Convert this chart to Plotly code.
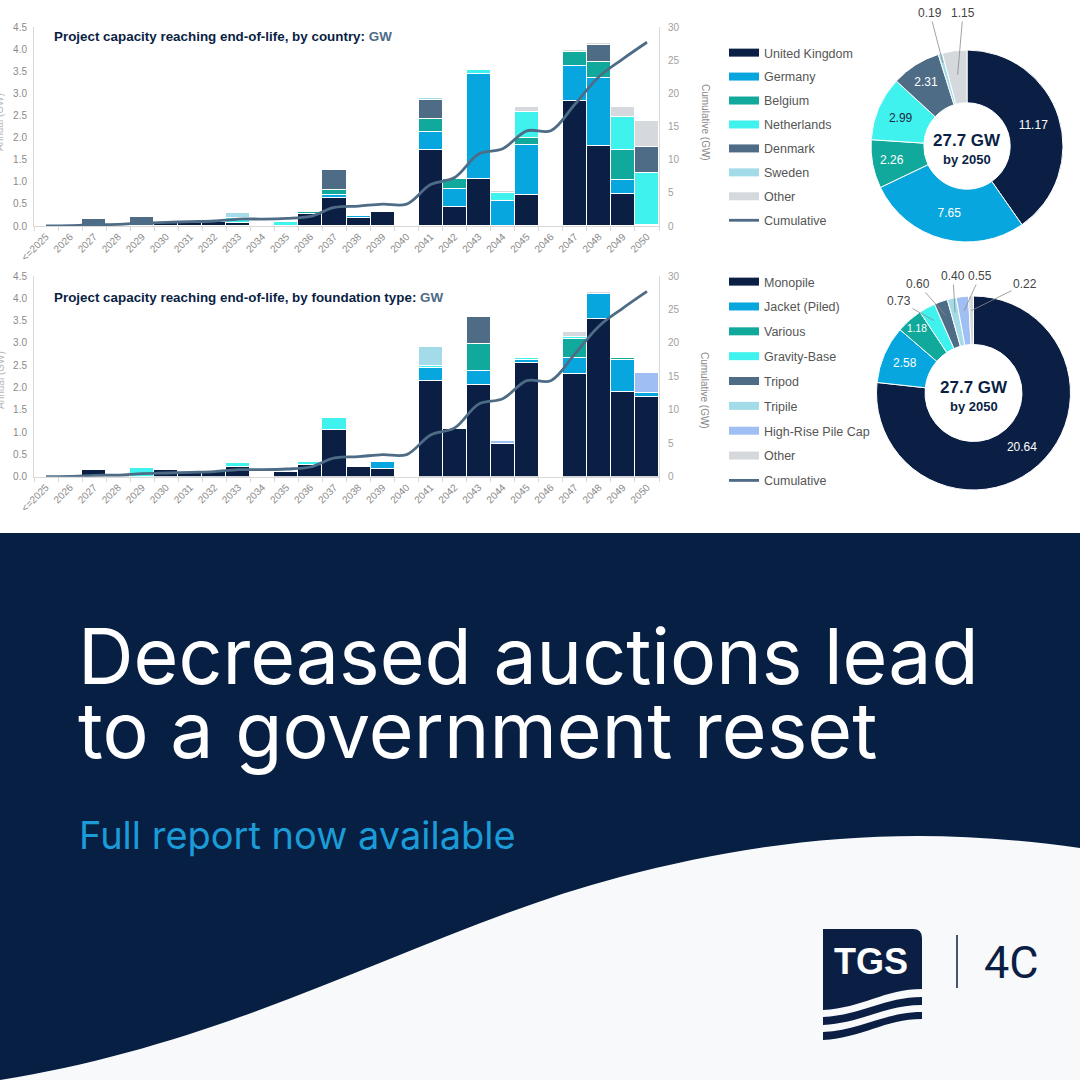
import math
import plotly.graph_objects as go

W, H = 1080, 1080

# ---------------- DATA ----------------
years = ["<=2025"] + [str(y) for y in range(2026, 2051)]

# Annual capacity reaching end-of-life by country (GW)
uk          = [0.01, 0.02, 0.00, 0.03, 0.00, 0.10, 0.10, 0.10, 0.07, 0.00, 0.00, 0.27, 0.63, 0.17, 0.32, 0.00, 1.73, 0.44, 1.06, 0.00, 0.69, 0.00, 2.82, 1.80, 0.72, 0.03]
germany     = [0, 0, 0, 0, 0, 0, 0, 0, 0, 0, 0, 0, 0.06, 0.05, 0, 0, 0.40, 0.40, 2.37, 0.57, 1.14, 0, 0.79, 1.54, 0.31, 0]
belgium     = [0, 0, 0, 0, 0, 0, 0, 0, 0, 0, 0, 0.04, 0.13, 0, 0, 0, 0.30, 0.22, 0, 0, 0.15, 0, 0.33, 0.37, 0.69, 0]
netherlands = [0, 0, 0, 0, 0, 0, 0, 0, 0.10, 0, 0.10, 0, 0, 0, 0, 0, 0, 0, 0.10, 0.17, 0.59, 0, 0, 0, 0.75, 1.16]
denmark     = [0, 0, 0.15, 0, 0.20, 0, 0, 0, 0, 0, 0, 0, 0.45, 0, 0, 0, 0.43, 0, 0, 0, 0, 0, 0, 0.39, 0, 0.60]
sweden      = [0, 0, 0, 0, 0, 0, 0, 0, 0.12, 0, 0, 0, 0.03, 0, 0, 0, 0.03, 0, 0, 0, 0, 0, 0, 0, 0, 0]
other_c     = [0, 0, 0, 0, 0, 0, 0, 0, 0, 0, 0, 0, 0, 0, 0, 0, 0.03, 0, 0, 0.05, 0.13, 0, 0.04, 0.03, 0.22, 0.59]

# Annual capacity reaching end-of-life by foundation type (GW)
monopile = [0, 0.01, 0.15, 0.02, 0, 0.15, 0.11, 0.10, 0.21, 0, 0.10, 0.26, 1.04, 0.22, 0.17, 0, 2.15, 1.06, 2.06, 0.73, 2.56, 0, 2.30, 3.53, 1.91, 1.78]
jacket   = [0, 0, 0, 0, 0, 0, 0, 0, 0, 0, 0, 0, 0, 0, 0.15, 0, 0.28, 0, 0.31, 0, 0.06, 0, 0.36, 0.57, 0.70, 0.10]
various  = [0, 0, 0, 0, 0, 0, 0, 0, 0, 0, 0, 0, 0, 0, 0, 0, 0, 0, 0.61, 0, 0, 0, 0.43, 0, 0.06, 0]
gravity  = [0, 0, 0, 0, 0.19, 0, 0, 0, 0.09, 0, 0, 0.06, 0.28, 0, 0, 0, 0.05, 0, 0, 0, 0.04, 0, 0.05, 0, 0, 0]
tripod   = [0, 0, 0, 0, 0, 0, 0, 0, 0, 0, 0, 0, 0, 0, 0, 0, 0, 0, 0.59, 0, 0, 0, 0, 0, 0, 0]
tripile  = [0, 0, 0, 0, 0, 0, 0, 0, 0, 0, 0, 0, 0, 0, 0, 0, 0.42, 0, 0, 0, 0, 0, 0, 0, 0, 0]
highrise = [0, 0, 0, 0, 0, 0, 0, 0, 0, 0, 0, 0, 0, 0, 0, 0, 0, 0, 0, 0.07, 0, 0, 0, 0, 0, 0.44]
other_f  = [0, 0, 0, 0, 0, 0, 0, 0, 0, 0, 0, 0, 0, 0, 0, 0, 0, 0, 0, 0, 0, 0, 0.10, 0.04, 0, 0]

# Cumulative capacity (GW, right axis)
cumulative = [0.01, 0.05, 0.20, 0.25, 0.45, 0.55, 0.65, 0.75, 1.05, 1.05, 1.15, 1.45, 2.80, 3.00, 3.30, 3.30,
              6.25, 7.30, 10.85, 11.65, 14.35, 14.35, 18.35, 22.50, 25.20, 27.70]

country_names = ["United Kingdom", "Germany", "Belgium", "Netherlands", "Denmark", "Sweden", "Other"]
country_totals = [11.17, 7.65, 2.26, 2.99, 2.31, 0.19, 1.15]

found_names = ["Monopile", "Jacket (Piled)", "Various", "Gravity-Base", "Tripod", "Tripile", "High-Rise Pile Cap", "Other"]
found_totals = [20.64, 2.58, 1.18, 0.73, 0.60, 0.40, 0.55, 0.22]

# ---------------- STYLE ----------------
NAVY = "#0b1f45"
BLUE = "#08a6df"
TEAL = "#12a99d"
CYAN = "#40f2ee"
SLATE = "#4e6c86"
LIGHT = "#a3dbe8"
PERI = "#9fbef4"
GREY = "#d5d8dc"
BANNER = "#061f42"
AX = "#d9d9d9"
TICK = "#8a8a8a"
FONT = "Liberation Sans, Arial, sans-serif"
HFONT = "Inter, Roboto, sans-serif"

country_colors = [NAVY, BLUE, TEAL, CYAN, SLATE, LIGHT, GREY]
found_colors = [NAVY, BLUE, TEAL, CYAN, SLATE, LIGHT, PERI, GREY]


def px(x):
    return x / W


def py(y):
    return 1 - y / H


def ppath(segs, close=True):
    out = []
    for cmd, pts in segs:
        out.append(cmd + " " + " ".join(f"{x / W:.5f},{1 - y / H:.5f}" for x, y in pts))
    return " ".join(out) + (" Z" if close else "")


fig = go.Figure()

# ---------------- BARS ----------------
for vals, name, col in zip([uk, germany, belgium, netherlands, denmark, sweden, other_c], country_names, country_colors):
    fig.add_trace(go.Bar(x=years, y=vals, name=name, marker=dict(color=col, line=dict(color="white", width=1)),
                         xaxis="x", yaxis="y", showlegend=False, hoverinfo="skip"))
for vals, name, col in zip([monopile, jacket, various, gravity, tripod, tripile, highrise, other_f], found_names, found_colors):
    fig.add_trace(go.Bar(x=years, y=vals, name=name, marker=dict(color=col, line=dict(color="white", width=1)),
                         xaxis="x2", yaxis="y3", showlegend=False, hoverinfo="skip"))

# legend entries (wide swatches)
for name, col in zip(country_names, country_colors):
    fig.add_trace(go.Scatter(x=[None], y=[None], mode="lines", line=dict(color=col, width=8), name=name,
                             legend="legend", legendgroup="a" + name, xaxis="x", yaxis="y", hoverinfo="skip"))
fig.add_trace(go.Scatter(x=years, y=cumulative, mode="lines", name="Cumulative",
                         line=dict(color=SLATE, width=2.8, shape="spline", smoothing=1),
                         xaxis="x", yaxis="y2", legend="legend", legendgroup="aCum", hoverinfo="skip"))
for name, col in zip(found_names, found_colors):
    fig.add_trace(go.Scatter(x=[None], y=[None], mode="lines", line=dict(color=col, width=8), name=name,
                             legend="legend2", legendgroup="b" + name, xaxis="x2", yaxis="y3", hoverinfo="skip"))
fig.add_trace(go.Scatter(x=years, y=cumulative, mode="lines", name="Cumulative",
                         line=dict(color=SLATE, width=2.8, shape="spline", smoothing=1),
                         xaxis="x2", yaxis="y4", legend="legend2", legendgroup="bCum", hoverinfo="skip"))

# ---------------- DONUTS ----------------
TOP_C = (967, 146, 96)
BOT_C = (973.5, 393, 97)

fig.add_trace(go.Pie(
    values=country_totals, labels=country_names, hole=0.45, sort=False, direction="clockwise", rotation=0,
    marker=dict(colors=country_colors, line=dict(color="white", width=1)),
    text=[f"{v:.2f}" if i < 5 else "" for i, v in enumerate(country_totals)], textinfo="text",
    textposition="inside", insidetextorientation="horizontal",
    textfont=dict(family=FONT, size=12, color=["white", "white", "white", "#1d2b45", "white", "white", "white"]),
    domain=dict(x=[px(TOP_C[0] - TOP_C[2]), px(TOP_C[0] + TOP_C[2])], y=[py(TOP_C[1] + TOP_C[2]), py(TOP_C[1] - TOP_C[2])]),
    showlegend=False, hoverinfo="skip"))
fig.add_trace(go.Pie(
    values=found_totals, labels=found_names, hole=0.5, sort=False, direction="clockwise", rotation=0,
    marker=dict(colors=found_colors, line=dict(color="white", width=1)),
    text=[f"{v:.2f}" if i < 3 else "" for i, v in enumerate(found_totals)], textinfo="text",
    textposition="inside", insidetextorientation="horizontal",
    textfont=dict(family=FONT, size=12, color="white"),
    domain=dict(x=[px(BOT_C[0] - BOT_C[2]), px(BOT_C[0] + BOT_C[2])], y=[py(BOT_C[1] + BOT_C[2]), py(BOT_C[1] - BOT_C[2])]),
    showlegend=False, hoverinfo="skip"))

annotations = []


def note(x, y, text, size, color, family=FONT, xanchor="center", yanchor="middle", **kw):
    annotations.append(dict(x=px(x), y=py(y), xref="paper", yref="paper", text=text, showarrow=False,
                            xanchor=xanchor, yanchor=yanchor, font=dict(family=family, size=size, color=color), **kw))


def slice_point(values, idx, center, rfrac):
    cx, cy, R = center
    tot = sum(values)
    frac = (sum(values[:idx]) + values[idx] / 2) / tot
    th = 2 * math.pi * frac
    r = R * rfrac
    return cx + r * math.sin(th), cy - r * math.cos(th)


def leader(values, idx, center, rfrac, tx, ty):
    hx, hy = slice_point(values, idx, center, rfrac)
    annotations.append(dict(x=px(hx), y=py(hy), xref="paper", yref="paper", ax=tx - hx, ay=ty - hy,
                            text=f"{values[idx]:.2f}", showarrow=True, arrowhead=0, arrowwidth=0.8,
                            arrowcolor="#8a8a8a", font=dict(family=FONT, size=12, color="#444444")))


leader(country_totals, 5, TOP_C, 0.9, 930, 13)
leader(country_totals, 6, TOP_C, 0.75, 963, 13)
leader(found_totals, 3, BOT_C, 0.85, 899, 301)
leader(found_totals, 4, BOT_C, 0.85, 918, 284)
leader(found_totals, 5, BOT_C, 0.85, 953, 276)
leader(found_totals, 6, BOT_C, 0.85, 980, 276)
leader(found_totals, 7, BOT_C, 0.85, 1025, 284)

for cx, cy, _ in (TOP_C, BOT_C):
    note(cx, cy - 6, "<b>27.7 GW</b>", 17, NAVY)
    note(cx, cy + 13, "<b>by 2050</b>", 13, NAVY)

# chart titles
note(52, 37, "<b>Project capacity reaching end-of-life, by country: <span style='color:%s'>GW</span></b>" % SLATE,
     13.4, NAVY, xanchor="left")
note(52, 297, "<b>Project capacity reaching end-of-life, by foundation type: <span style='color:%s'>GW</span></b>" % SLATE,
     13.4, NAVY, xanchor="left")
# axis titles
for yc in (122, 390):
    note(705, yc, "Cumulative (GW)", 10, TICK, textangle=90)
for yc in (122, 380):
    note(0, yc, "Annual (GW)", 10, "#b8b8b8", textangle=-90)

# banner texts
note(76, 656, "Decreased auctions lead", 77, "white", family=HFONT, xanchor="left")
note(76, 730, "to a government reset", 77, "white", family=HFONT, xanchor="left")
note(77, 835, "Full report now available", 38, "#1b9bd7", family=HFONT, xanchor="left")
# logo texts
note(871, 961, "<b>TGS</b>", 36, "white")
note(1011, 962, "4C", 45, NAVY, family="Roboto, sans-serif")

# ---------------- SHAPES ----------------
shapes = [
    dict(type="rect", xref="paper", yref="paper", x0=0, x1=1, y0=0, y1=py(533), fillcolor=BANNER,
         line=dict(width=0), layer="below"),
    dict(type="path", xref="paper", yref="paper", layer="below", fillcolor="#f8f9fa", line=dict(width=0),
         path=ppath([("M", [(0, 1080)]), ("C", [(250, 1040), (420, 930), (620, 877)]),
                     ("C", [(780, 835), (920, 825), (1080, 848)]), ("L", [(1080, 1080)])])),
    # logo
    dict(type="path", xref="paper", yref="paper", layer="below", fillcolor=NAVY, line=dict(width=0),
         path=ppath([("M", [(823, 929)]), ("L", [(913, 929)]), ("Q", [(922, 929), (922, 938)]), ("L", [(922, 989)]),
                     ("C", [(885, 989), (862, 1008), (823, 1010)])])),
    dict(type="path", xref="paper", yref="paper", layer="below", fillcolor=NAVY, line=dict(width=0),
         path=ppath([("M", [(823, 1017)]), ("C", [(862, 1015), (885, 997), (922, 997)]), ("L", [(922, 1005)]),
                     ("C", [(885, 1005), (862, 1023), (823, 1025)])])),
    dict(type="path", xref="paper", yref="paper", layer="below", fillcolor=NAVY, line=dict(width=0),
         path=ppath([("M", [(823, 1032)]), ("C", [(862, 1030), (885, 1012), (922, 1012)]), ("L", [(922, 1019)]),
                     ("C", [(885, 1019), (862, 1038), (823, 1040)])])),
    dict(type="line", xref="paper", yref="paper", layer="below", x0=px(957), x1=px(957), y0=py(935), y1=py(988),
         line=dict(color=NAVY, width=1.5)),
]

xcommon = dict(type="category", tickangle=-45, tickfont=dict(family=FONT, size=10, color=TICK), showline=True,
               linecolor=AX, ticks="outside", tickson="boundaries", ticklen=4, tickcolor=AX, showgrid=False,
               fixedrange=True, automargin=False)
yleft = dict(range=[0, 4.5], dtick=0.5, tickformat=".1f", showgrid=False, showline=True, linecolor=AX, zeroline=False,
             tickfont=dict(family=FONT, size=10, color=TICK), ticks="", ticklabelstandoff=4, automargin=False)
yright = dict(range=[0, 30], dtick=5, showgrid=False, showline=True, linecolor=AX, zeroline=False, side="right",
              tickfont=dict(family=FONT, size=10, color="#a0a0a0"), ticks="", ticklabelstandoff=6, automargin=False)

legend_common = dict(xanchor="left", yanchor="top", traceorder="grouped",
                     font=dict(family=FONT, size=12.5, color="#555555"), bgcolor="rgba(0,0,0,0)", itemclick=False)

fig.update_layout(
    width=W, height=H, margin=dict(l=0, r=0, t=0, b=0, autoexpand=False),
    paper_bgcolor="white", plot_bgcolor="white",
    barmode="stack", bargap=0,
    xaxis=dict(domain=[px(34), px(659)], anchor="y", **xcommon),
    yaxis=dict(domain=[py(226), py(27)], anchor="x", **yleft),
    yaxis2=dict(overlaying="y", anchor="x", **yright),
    xaxis2=dict(domain=[px(34), px(659)], anchor="y3", **xcommon),
    yaxis3=dict(domain=[py(476.7), py(276)], anchor="x2", **yleft),
    yaxis4=dict(overlaying="y3", anchor="x2", **yright),
    legend=dict(x=px(724), y=py(38), tracegroupgap=4.7, **legend_common),
    legend2=dict(x=px(724), y=py(267), tracegroupgap=5.6, **legend_common),
    annotations=annotations,
    shapes=shapes,
)

fig.write_html("out.html")
